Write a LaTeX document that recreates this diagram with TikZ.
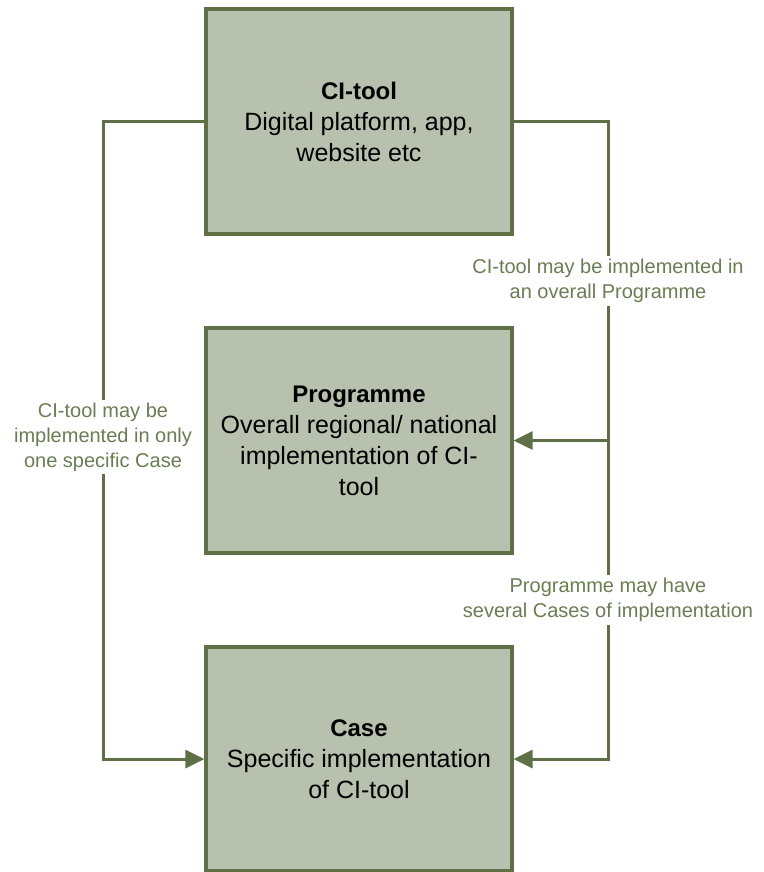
\documentclass[tikz,border=0pt]{standalone}
\usepackage{fontspec}
\setmainfont{Liberation Sans}
\usetikzlibrary{arrows.meta}
\definecolor{boxfill}{HTML}{B7C1AE}
\definecolor{boxline}{HTML}{5F7046}
\definecolor{labtext}{HTML}{6B7D52}
\tikzset{
  stagebox/.style={draw=boxline, line width=3.2pt, fill=boxfill, minimum width=306pt, minimum height=225pt, align=center, inner sep=4pt, font=\fontsize{25}{31}\selectfont, text=black},
  link/.style={draw=boxline, line width=3pt, -{Triangle[length=19pt,width=18pt]}},
  lab/.style={fill=white, align=center, text=labtext, font=\fontsize{20}{25}\selectfont, inner sep=3pt}
}
\newcommand{\ttl}[1]{{\fontsize{24}{31}\selectfont\bfseries #1}}
\begin{document}
\begin{tikzpicture}[x=1pt,y=-1pt]
\useasboundingbox (0,0) rectangle (763,872);
\node[stagebox] (ci) at (359,121.5) {\ttl{CI-tool}\\Digital platform, app,\\website etc};
\node[stagebox] (prog) at (359,440.5) {\ttl{Programme}\\Overall regional/ national\\implementation of CI-\\tool};
\node[stagebox, minimum height=224pt] (case) at (359,759) {\ttl{Case}\\Specific implementation\\of CI-tool};
\coordinate (bl) at (103,759);
\coordinate (br) at (608,759);
\draw[link] (ci.west) -| (bl) -- (case.west);
\draw[link] (ci.east) -| (br) -- (case.east);
\draw[link] (prog.east -| br) -- (prog.east);
\node[lab] (l1) at (608,281) {CI-tool may be implemented in\\an overall Programme};
\node[lab] (l2) at (103,437) {CI-tool may be\\implemented in only\\one specific Case};
\node[lab] (l3) at (608,600) {Programme may have\\several Cases of implementation};
\end{tikzpicture}
\end{document}
